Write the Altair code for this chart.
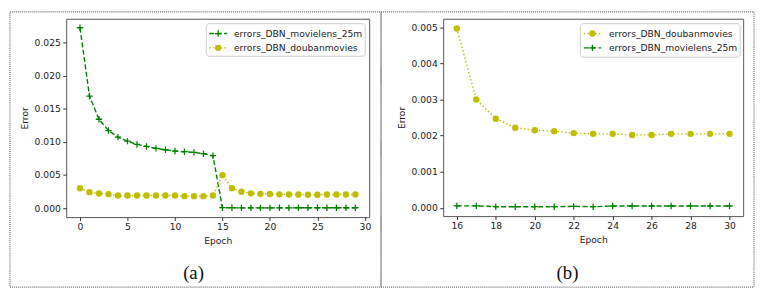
import altair as alt
import pandas as pd

# ---------------- data ----------------
epochs_a = list(range(30))
movielens_a = [0.0272, 0.0169, 0.0134, 0.0117, 0.0107, 0.0101, 0.0096, 0.0093,
               0.0090, 0.0088, 0.0086, 0.0085, 0.0084, 0.0082, 0.0079,
               0.000055, 0.000055, 0.00003, 0.00003, 0.00003, 0.00003, 0.00004,
               0.00003, 0.00005, 0.00005, 0.00005, 0.00005, 0.00005, 0.00005, 0.00005]
douban_a = [0.0030, 0.0024, 0.0022, 0.0021, 0.0019, 0.0019, 0.0019, 0.0019,
            0.0019, 0.0019, 0.0019, 0.0018, 0.0018, 0.0018, 0.0019,
            0.00497, 0.0030, 0.00247, 0.00222, 0.00215, 0.00212, 0.00207,
            0.00205, 0.00205, 0.00202, 0.00202, 0.00205, 0.00205, 0.00205, 0.00205]

epochs_b = list(range(16, 31))
douban_b = [0.00497, 0.0030, 0.00247, 0.00222, 0.00215, 0.00212, 0.00207,
            0.00205, 0.00205, 0.00202, 0.00202, 0.00205, 0.00205, 0.00205, 0.00205]
movielens_b = [0.000055, 0.000055, 0.00003, 0.00003, 0.00003, 0.00003, 0.00004,
               0.00003, 0.00005, 0.00005, 0.00005, 0.00005, 0.00005, 0.00005, 0.00005]

x_ticks_a = [0, 5, 10, 15, 20, 25, 30]
y_ticks_a = [0.0, 0.005, 0.010, 0.015, 0.020, 0.025]
x_ticks_b = [16, 18, 20, 22, 24, 26, 28, 30]
y_ticks_b = [0.0, 0.001, 0.002, 0.003, 0.004, 0.005]

name_ml = "errors_DBN_movielens_25m"
name_db = "errors_DBN_doubanmovies"
panel_labels = ["(a)", "(b)"]

# ---------------- styles ----------------
GREEN = "#008000"
YELLOW = "#bfbf00"
CROSS = "M-1,0L1,0M0,-1L0,1"
FONT = "DejaVu Sans"
TXT = "#222222"
FS = 9.3
DUMMY = pd.DataFrame({"d": [0]})


def series_layers(epochs, values, kind, xenc, yenc):
    df = pd.DataFrame({"epoch": epochs, "err": values})
    base = alt.Chart(df).encode(x=xenc, y=yenc)
    if kind == "ml":
        line = base.mark_line(color=GREEN, strokeWidth=1.4, strokeDash=[5, 2.5])
        pts = base.mark_point(shape=CROSS, filled=False, size=42, color=GREEN,
                              strokeWidth=1.3, opacity=1)
    else:
        line = base.mark_line(color=YELLOW, strokeWidth=1.4, strokeDash=[1.5, 2.3])
        pts = base.mark_point(shape="circle", filled=True, size=42, color=YELLOW,
                              opacity=1)
    return [line, pts]


def legend_layers(items, box, glyph_x, text_x, rows):
    x1, x2, y1, y2 = box
    out = [alt.Chart(DUMMY).mark_rect(fill="white", stroke="#cccccc", strokeWidth=1,
                                      cornerRadius=3).encode(
        x=alt.value(x1), x2=alt.value(x2), y=alt.value(y1), y2=alt.value(y2))]
    for (kind, label), ry in zip(items, rows):
        color = GREEN if kind == "ml" else YELLOW
        dash = [5, 2.5] if kind == "ml" else [1.5, 2.3]
        out.append(alt.Chart(DUMMY).mark_rule(color=color, strokeWidth=1.4,
                                              strokeDash=dash).encode(
            x=alt.value(glyph_x[0]), x2=alt.value(glyph_x[1]), y=alt.value(ry)))
        mx = (glyph_x[0] + glyph_x[1]) / 2
        if kind == "ml":
            out.append(alt.Chart(DUMMY).mark_point(shape=CROSS, filled=False, size=42,
                                                   color=GREEN, strokeWidth=1.3,
                                                   opacity=1).encode(
                x=alt.value(mx), y=alt.value(ry)))
        else:
            out.append(alt.Chart(DUMMY).mark_point(shape="circle", filled=True, size=42,
                                                   color=YELLOW, opacity=1).encode(
                x=alt.value(mx), y=alt.value(ry)))
        out.append(alt.Chart(DUMMY).mark_text(text=label, align="left", baseline="middle",
                                              font=FONT, fontSize=FS, color=TXT).encode(
            x=alt.value(text_x), y=alt.value(ry)))
    return out


def panel(xdom, ydom, xt, yt, w, h, order, legend_cfg, frame, label, label_x):
    xenc = alt.X("epoch:Q", scale=alt.Scale(domain=xdom, nice=False, zero=False),
                 axis=alt.Axis(values=xt, title="Epoch", format="d"))
    yenc = alt.Y("err:Q", scale=alt.Scale(domain=ydom, nice=False, zero=False),
                 axis=alt.Axis(values=yt, title="Error", format=".3f"))
    layers = []
    # border frame (dotted)
    layers.append(alt.Chart(DUMMY).mark_rect(fill=None, stroke="#6e6e6e", strokeWidth=1.2,
                                             strokeDash=[1, 1]).encode(
        x=alt.value(frame[0]), x2=alt.value(frame[1]),
        y=alt.value(frame[2]), y2=alt.value(frame[3])))
    for kind, ep, vals in order:
        layers += series_layers(ep, vals, kind, xenc, yenc)
    layers += legend_layers(*legend_cfg)
    layers.append(alt.Chart(DUMMY).mark_text(text=label, align="center", baseline="middle",
                                             font="Liberation Serif", fontSize=19,
                                             color="#111111").encode(
        x=alt.value(label_x), y=alt.value(258)))
    return alt.layer(*layers).properties(width=w, height=h)


panel_a = panel(
    [-1.45, 30.45], [-0.00136, 0.02856], x_ticks_a, y_ticks_a, 307, 201,
    [("ml", epochs_a, movielens_a), ("db", epochs_a, douban_a)],
    ([("ml", name_ml), ("db", name_db)], (142, 303, 5, 38), (145, 163), 170, (15, 29.5)),
    (-57, 319, -7, 272), panel_labels[0], 129)

panel_b = panel(
    [15.3, 30.7], [-0.00023, 0.00524], x_ticks_b, y_ticks_b, 304, 200,
    [("db", epochs_b, douban_b), ("ml", epochs_b, movielens_b)],
    ([("db", name_db), ("ml", name_ml)], (139, 301, 5, 39), (142.5, 160), 168, (15, 29.5)),
    (-63, 315, -7, 272), panel_labels[1], 126)

chart = alt.hconcat(panel_a, panel_b, spacing=75, bounds="flush").properties(
    padding=0, background="white"
).configure_view(stroke="#555555", strokeWidth=1).configure_axis(
    grid=False, domain=False, tickSize=3.5, tickColor="#333333", tickWidth=1,
    labelPadding=2.5, labelFont=FONT, labelFontSize=FS, labelColor=TXT,
    titleFont=FONT, titleFontSize=FS, titleFontWeight="normal", titleColor=TXT,
    labelFlush=False
).configure_axisX(titlePadding=4).configure_axisY(titlePadding=5)

chart.save("out.html", embed_options={"renderer": "svg", "actions": False})
